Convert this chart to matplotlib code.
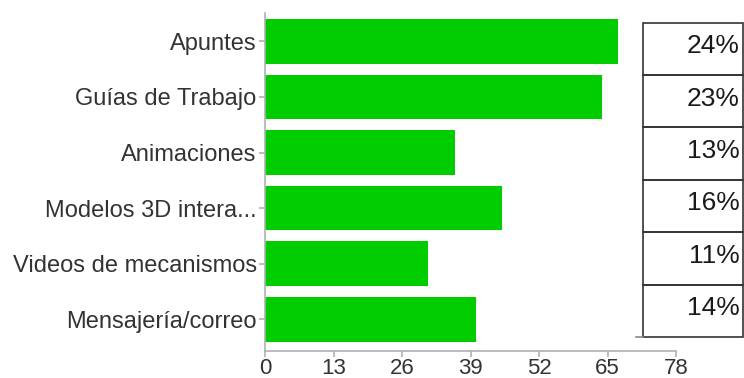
import matplotlib.pyplot as plt
from matplotlib.patches import Rectangle
from matplotlib.lines import Line2D

plt.rcParams['font.family'] = ['Liberation Sans', 'DejaVu Sans']

categories = ["Apuntes", "Guías de Trabajo", "Animaciones", "Modelos 3D intera...",
              "Videos de mecanismos", "Mensajería/correo"]
counts = [67, 64, 36, 45, 31, 40]
xticks = [0, 13, 26, 39, 52, 65, 78]

W, H = 744, 378
fig = plt.figure(figsize=(W / 100, H / 100), dpi=100)

# bar axes, placed in pixel terms
left, right, top, bottom = 265, 676, 13, 351
ax = fig.add_axes([left / W, 1 - bottom / H, (right - left) / W, (bottom - top) / H])

ypos = list(range(len(categories)))
ax.barh(ypos, counts, height=0.8, color="#00cc00", edgecolor="none")
ax.set_ylim(5.57, -0.51)
ax.set_xlim(0, 78)
ax.set_xticks(xticks)
ax.set_xticklabels([str(t) for t in xticks], fontsize=16, color="#333333")
ax.set_yticks(ypos)
ax.set_yticklabels(categories, fontsize=17, color="#333333")

for s in ["top", "right"]:
    ax.spines[s].set_visible(False)
for s in ["left", "bottom"]:
    ax.spines[s].set_color("#b0b0b0")
    ax.spines[s].set_linewidth(1.2)
ax.tick_params(axis="both", colors="#b0b0b0", length=4, width=1.2)
ax.tick_params(axis="x", labelcolor="#333333", pad=1)
ax.tick_params(axis="y", labelcolor="#333333", pad=2)

# percentage table on the right
total = sum(counts)
pct = [f"{round(100 * c / total)}%" for c in counts]
tleft, tright, ttop, tbot = 643, 743, 22.7, 337
rows = len(pct)
rh = (tbot - ttop) / rows
for i, p in enumerate(pct):
    y0 = ttop + i * rh
    fig.patches.append(Rectangle((tleft / W, 1 - (y0 + rh) / H), (tright - tleft) / W, rh / H,
                                 transform=fig.transFigure, fill=False,
                                 edgecolor="#333333", linewidth=1.2))
    fig.text((tright - 3) / W, 1 - (y0 + rh * 0.45) / H, p, ha="right", va="center",
             fontsize=19, color="#1a1a1a")
fig.lines.append(Line2D([636 / W, tleft / W], [1 - tbot / H, 1 - tbot / H],
                        transform=fig.transFigure, color="#888888", linewidth=1.2))

fig.savefig("out.png", dpi=100)
